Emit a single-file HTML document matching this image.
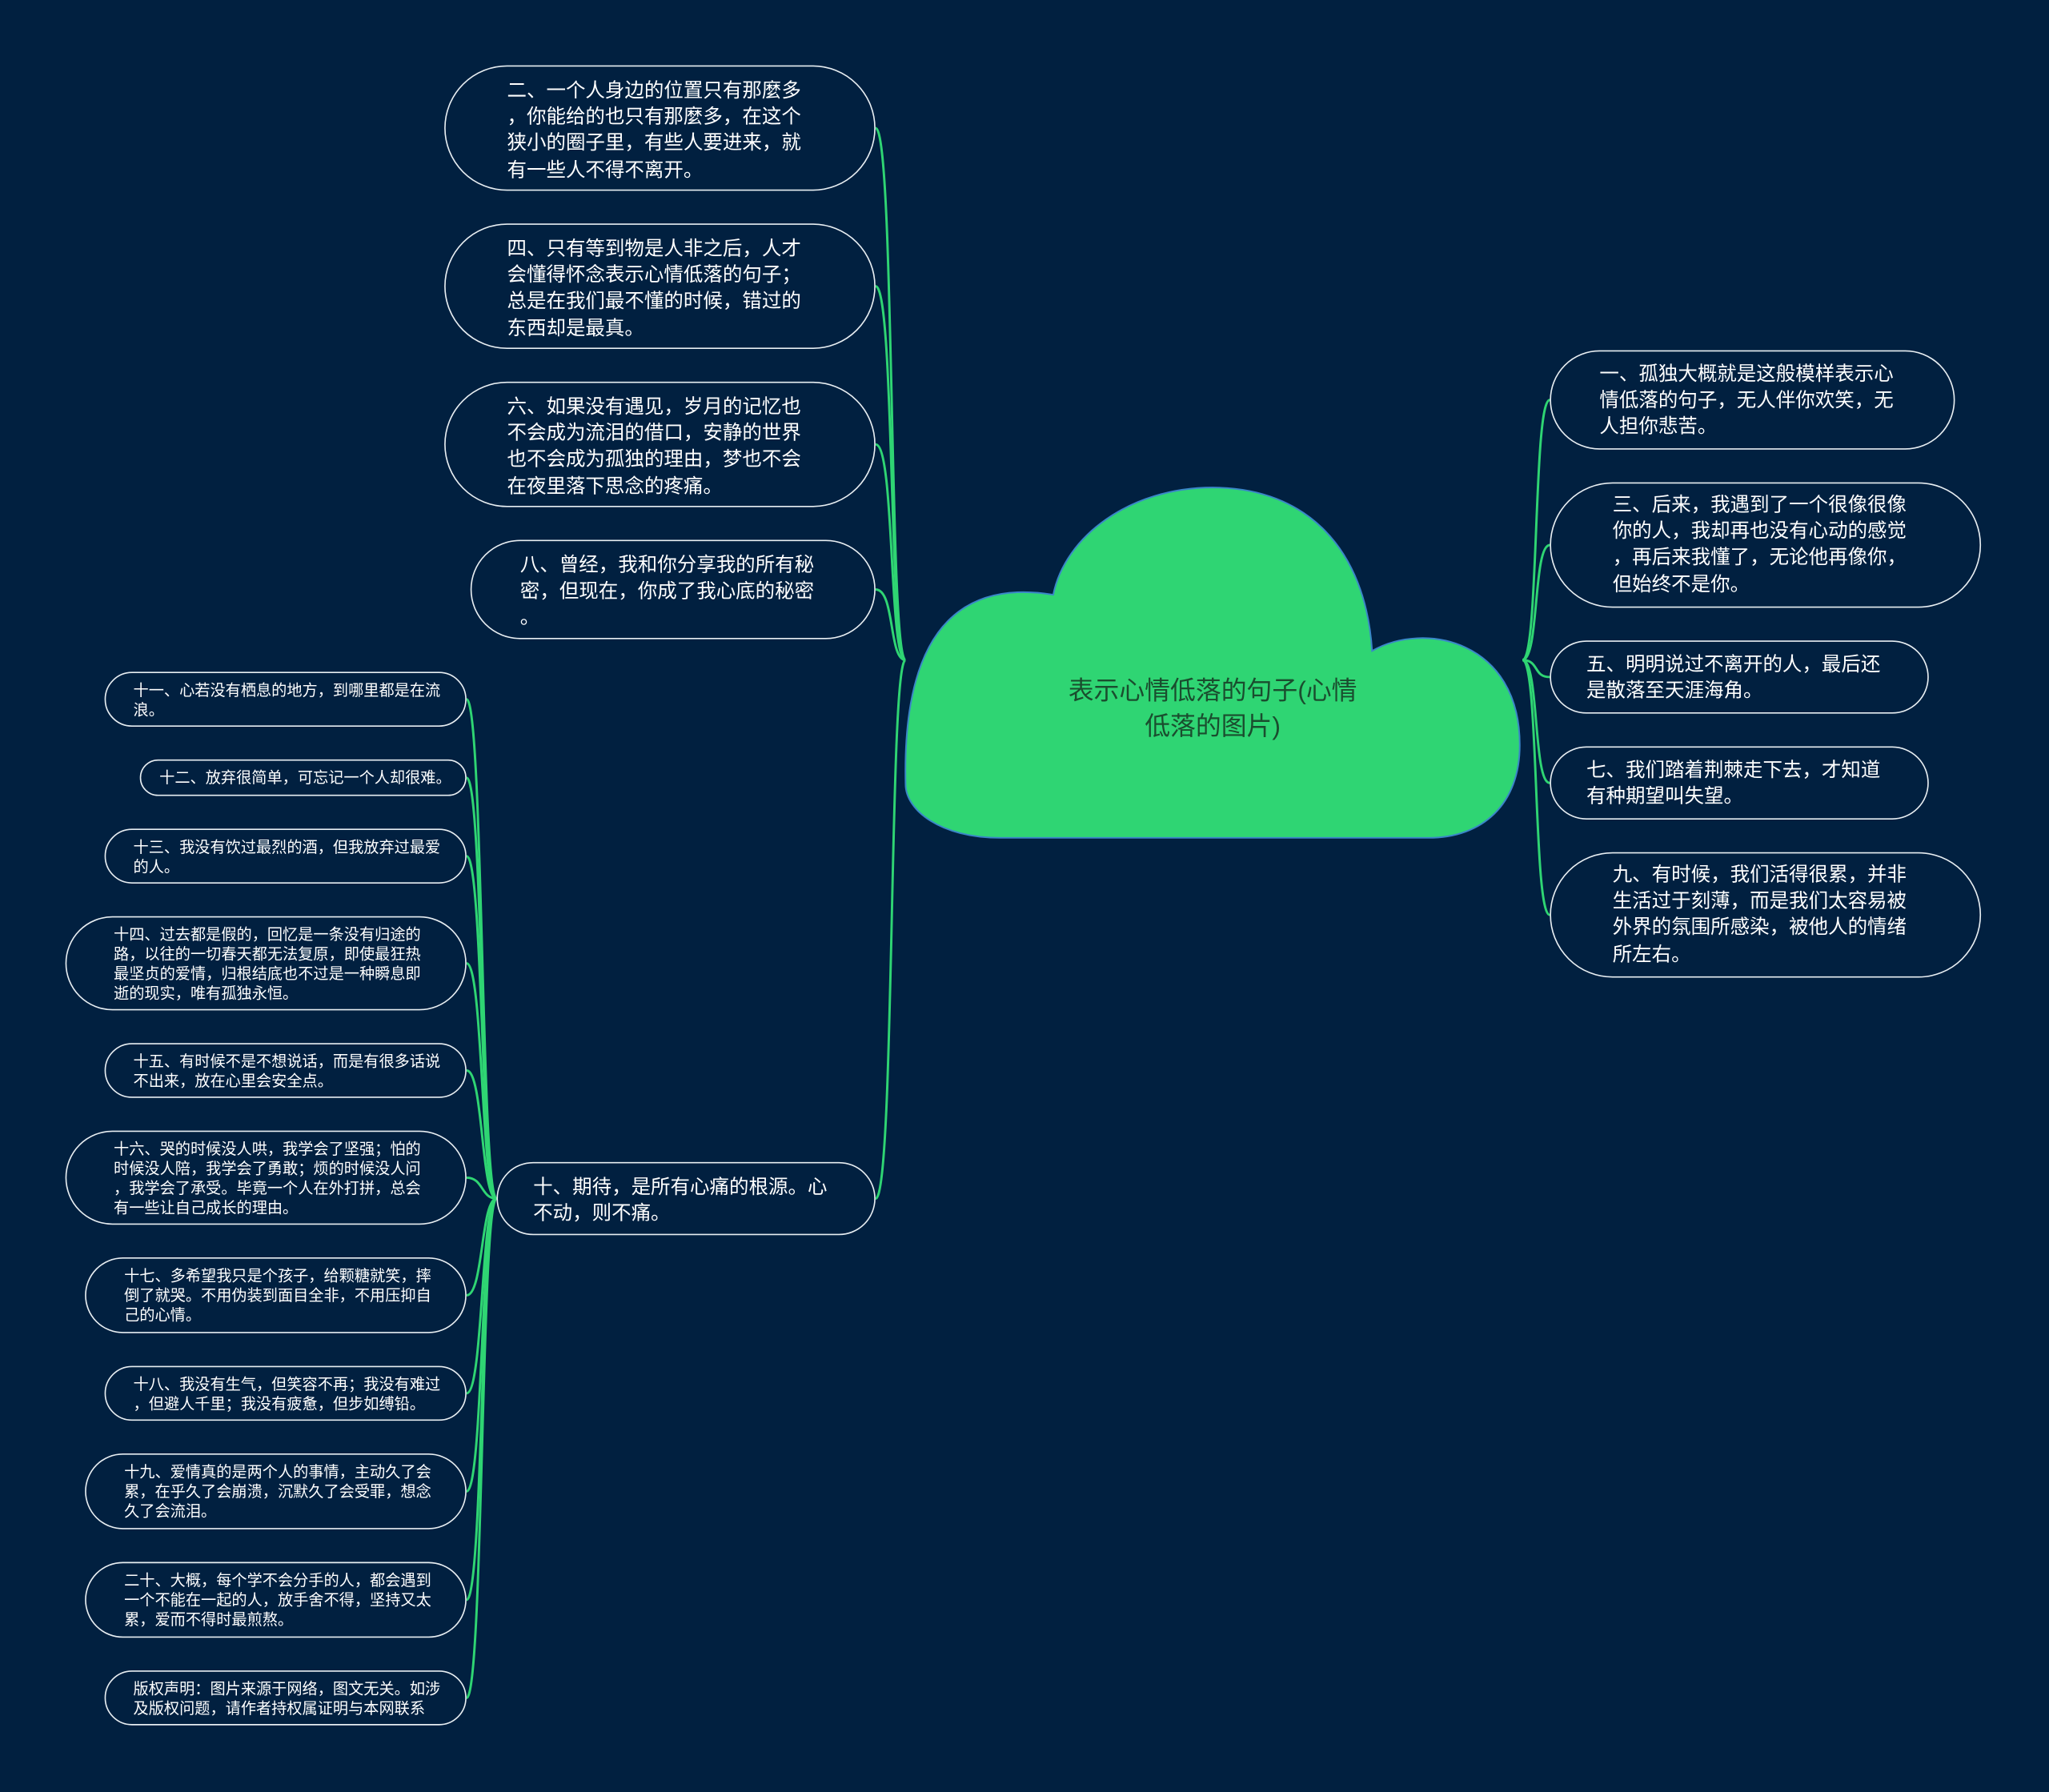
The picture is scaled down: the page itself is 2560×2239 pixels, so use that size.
<!DOCTYPE html>
<html><head><meta charset="utf-8"><style>
html,body{margin:0;padding:0;background:#012040;}
#wrap{width:1568px;height:1371px;position:relative;transform:scale(1.63265,1.6331);transform-origin:0 0;background:#012040;overflow:hidden;}
.n{position:absolute;box-sizing:border-box;border:1.2px solid #e8eef2;border-radius:40px;color:#fff;font-family:"Liberation Sans","Noto Sans CJK SC",sans-serif;white-space:pre;}
.b{font-size:15px;line-height:20.2px;}
.s{font-size:11.75px;line-height:15px;border-radius:24px;}
.t{position:absolute;}
svg{position:absolute;left:0;top:0;}
</style></head><body><div id="wrap">
<svg width="1568" height="1371" viewBox="0 0 1568 1371" fill="none" stroke="#2fd573" stroke-width="1.8">
<path d="M693 505 C680 505 685 98 670 98"/>
<path d="M693 505 C680 505 685 219 670 219"/>
<path d="M693 505 C680 505 685 340 670 340"/>
<path d="M693 505 C680 505 685 451 670 451"/>
<path d="M693 505 C680 505 685 917 670 917"/>
<path d="M1165 505 C1178 505 1173 306 1186 306"/>
<path d="M1165 505 C1178 505 1173 417 1186 417"/>
<path d="M1165 505 C1178 505 1173 518 1186 518"/>
<path d="M1165 505 C1178 505 1173 599 1186 599"/>
<path d="M1165 505 C1178 505 1173 700 1186 700"/>
<path d="M380 917 C368 917 370 535 357 535"/>
<path d="M380 917 C368 917 370 595 357 595"/>
<path d="M380 917 C368 917 370 655 357 655"/>
<path d="M380 917 C368 917 370 737 357 737"/>
<path d="M380 917 C368 917 370 819 357 819"/>
<path d="M380 917 C368 917 370 901 357 901"/>
<path d="M380 917 C368 917 370 991 357 991"/>
<path d="M380 917 C368 917 370 1066 357 1066"/>
<path d="M380 917 C368 917 370 1141 357 1141"/>
<path d="M380 917 C368 917 370 1224 357 1224"/>
<path d="M380 917 C368 917 370 1299 357 1299"/>
<path d="M693 600 C690 470 745 445 806 455 C815 410 865 373 928 373 C1000 373 1045 420 1050 498 C1090 475 1163 490 1163 570 C1163 615 1135 641 1093 641 L765 641 C720 641 693 620 693 600 Z" fill="#2fd573" stroke="#3a86c8" stroke-width="1.2"/>
</svg>
<div class="t" style="left:693px;width:470px;top:516px;text-align:center;font-family:'Liberation Sans','Noto Sans CJK SC',sans-serif;font-size:19.5px;line-height:27px;color:#1a4d2e;">表示心情低落的句子(心情<br>低落的图片)</div>

<div class="n b" style="left:340px;top:50px;width:330px;height:96px;padding:9px 0 0 47px;border-radius:48px;">二、一个人身边的位置只有那麼多
，你能给的也只有那麼多，在这个
狭小的圈子里，有些人要进来，就
有一些人不得不离开。</div>
<div class="n b" style="left:340px;top:171px;width:330px;height:96px;padding:9px 0 0 47px;border-radius:48px;">四、只有等到物是人非之后，人才
会懂得怀念表示心情低落的句子；
总是在我们最不懂的时候，错过的
东西却是最真。</div>
<div class="n b" style="left:340px;top:292px;width:330px;height:96px;padding:9px 0 0 47px;border-radius:48px;">六、如果没有遇见，岁月的记忆也
不会成为流泪的借口，安静的世界
也不会成为孤独的理由，梦也不会
在夜里落下思念的疼痛。</div>
<div class="n b" style="left:360px;top:413px;width:310px;height:76px;padding:9px 0 0 37px;">八、曾经，我和你分享我的所有秘
密，但现在，你成了我心底的秘密
。</div>
<div class="n b" style="left:380px;top:889px;width:290px;height:56px;padding:9px 0 0 27px;">十、期待，是所有心痛的根源。心
不动，则不痛。</div>

<div class="n b" style="left:1186px;top:268px;width:310px;height:76px;padding:8px 0 0 37px;">一、孤独大概就是这般模样表示心
情低落的句子，无人伴你欢笑，无
人担你悲苦。</div>
<div class="n b" style="left:1186px;top:369px;width:330px;height:96px;padding:7px 0 0 47px;border-radius:48px;">三、后来，我遇到了一个很像很像
你的人，我却再也没有心动的感觉
，再后来我懂了，无论他再像你，
但始终不是你。</div>
<div class="n b" style="left:1186px;top:490px;width:290px;height:56px;padding:8px 0 0 27px;">五、明明说过不离开的人，最后还
是散落至天涯海角。</div>
<div class="n b" style="left:1186px;top:571px;width:290px;height:56px;padding:8px 0 0 27px;">七、我们踏着荆棘走下去，才知道
有种期望叫失望。</div>
<div class="n b" style="left:1186px;top:652px;width:330px;height:96px;padding:7px 0 0 47px;border-radius:48px;">九、有时候，我们活得很累，并非
生活过于刻薄，而是我们太容易被
外界的氛围所感染，被他人的情绪
所左右。</div>

<div class="n s" style="left:80px;top:514px;width:277px;height:42px;padding:6px 0 0 21px;">十一、心若没有栖息的地方，到哪里都是在流
浪。</div>
<div class="n s" style="left:107px;top:581px;width:250px;height:28px;padding:6px 0 0 14px;">十二、放弃很简单，可忘记一个人却很难。</div>
<div class="n s" style="left:80px;top:634px;width:277px;height:42px;padding:6px 0 0 21px;">十三、我没有饮过最烈的酒，但我放弃过最爱
的人。</div>
<div class="n s" style="left:50px;top:701px;width:307px;height:72px;padding:6px 0 0 36px;border-radius:36px;">十四、过去都是假的，回忆是一条没有归途的
路，以往的一切春天都无法复原，即使最狂热
最坚贞的爱情，归根结底也不过是一种瞬息即
逝的现实，唯有孤独永恒。</div>
<div class="n s" style="left:80px;top:798px;width:277px;height:42px;padding:6px 0 0 21px;">十五、有时候不是不想说话，而是有很多话说
不出来，放在心里会安全点。</div>
<div class="n s" style="left:50px;top:865px;width:307px;height:72px;padding:6px 0 0 36px;border-radius:36px;">十六、哭的时候没人哄，我学会了坚强；怕的
时候没人陪，我学会了勇敢；烦的时候没人问
，我学会了承受。毕竟一个人在外打拼，总会
有一些让自己成长的理由。</div>
<div class="n s" style="left:65px;top:962px;width:292px;height:58px;padding:6px 0 0 29px;border-radius:29px;">十七、多希望我只是个孩子，给颗糖就笑，摔
倒了就哭。不用伪装到面目全非，不用压抑自
己的心情。</div>
<div class="n s" style="left:80px;top:1045px;width:277px;height:42px;padding:6px 0 0 21px;">十八、我没有生气，但笑容不再；我没有难过
，但避人千里；我没有疲惫，但步如缚铅。</div>
<div class="n s" style="left:65px;top:1112px;width:292px;height:58px;padding:6px 0 0 29px;border-radius:29px;">十九、爱情真的是两个人的事情，主动久了会
累，在乎久了会崩溃，沉默久了会受罪，想念
久了会流泪。</div>
<div class="n s" style="left:65px;top:1195px;width:292px;height:58px;padding:6px 0 0 29px;border-radius:29px;">二十、大概，每个学不会分手的人，都会遇到
一个不能在一起的人，放手舍不得，坚持又太
累，爱而不得时最煎熬。</div>
<div class="n s" style="left:80px;top:1278px;width:277px;height:42px;padding:6px 0 0 21px;">版权声明：图片来源于网络，图文无关。如涉
及版权问题，请作者持权属证明与本网联系</div>
</div></body></html>
